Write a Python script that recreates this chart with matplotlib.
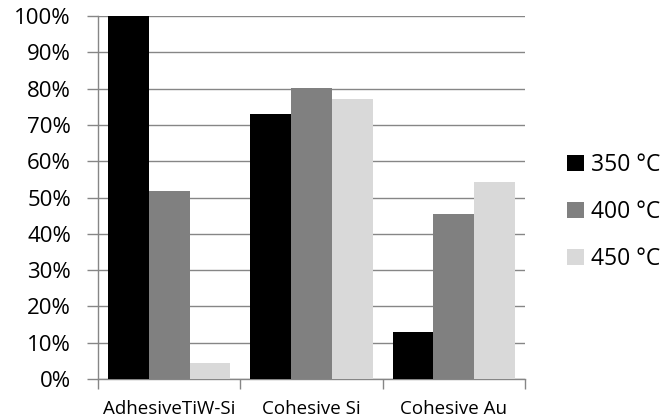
import numpy as np
import matplotlib
matplotlib.use("Agg")
import matplotlib.pyplot as plt
from matplotlib.ticker import PercentFormatter, FixedLocator

# data (fractions)
categories = ["AdhesiveTiW-Si", "Cohesive Si", "Cohesive Au"]
series_names = ["350 °C", "400 °C", "450 °C"]
t350 = [1.00, 0.731, 0.130]
t400 = [0.519, 0.802, 0.454]
t450 = [0.043, 0.770, 0.543]
colors = ["#000000", "#808080", "#d9d9d9"]

plt.rcParams["font.family"] = ["Open Sans", "DejaVu Sans"]

fig = plt.figure(figsize=(6.7, 4.18), dpi=100)
ax = fig.add_axes([98 / 670, 39 / 418, 427 / 670, 363 / 418])

x = np.arange(len(categories))
width = 0.286
for i, (vals, name) in enumerate(zip([t350, t400, t450], series_names)):
    ax.bar(x + (i - 1) * width, vals, width, color=colors[i], label=name, zorder=3)

ax.set_xlim(-0.5, len(categories) - 0.5)
ax.set_ylim(0, 1.0)
ax.yaxis.set_major_locator(FixedLocator(np.linspace(0, 1, 11)))
ax.yaxis.set_major_formatter(PercentFormatter(1.0, decimals=0))

ax.set_xticks(x)
ax.set_xticklabels(categories, fontsize=13.5)
ax.xaxis.set_minor_locator(FixedLocator(np.arange(-0.5, len(categories), 1.0)))
ax.tick_params(axis="x", which="major", length=0, pad=15)
ax.tick_params(axis="x", which="minor", length=7, color="#868686", width=1)
ax.tick_params(axis="y", length=8, color="#868686", width=1, labelsize=16, pad=11.5)

ax.grid(axis="y", color="#868686", linewidth=1, zorder=0)
for side in ["top", "right"]:
    ax.spines[side].set_visible(False)
for side in ["left", "bottom"]:
    ax.spines[side].set_color("#868686")
    ax.spines[side].set_linewidth(1)

ax.legend(loc="center left", bbox_to_anchor=(1.05, 0.46), frameon=False,
          fontsize=16.5, handlelength=0.74, handleheight=0.74, handletextpad=0.3,
          labelspacing=1.0)

fig.savefig("out.png", dpi=100)
